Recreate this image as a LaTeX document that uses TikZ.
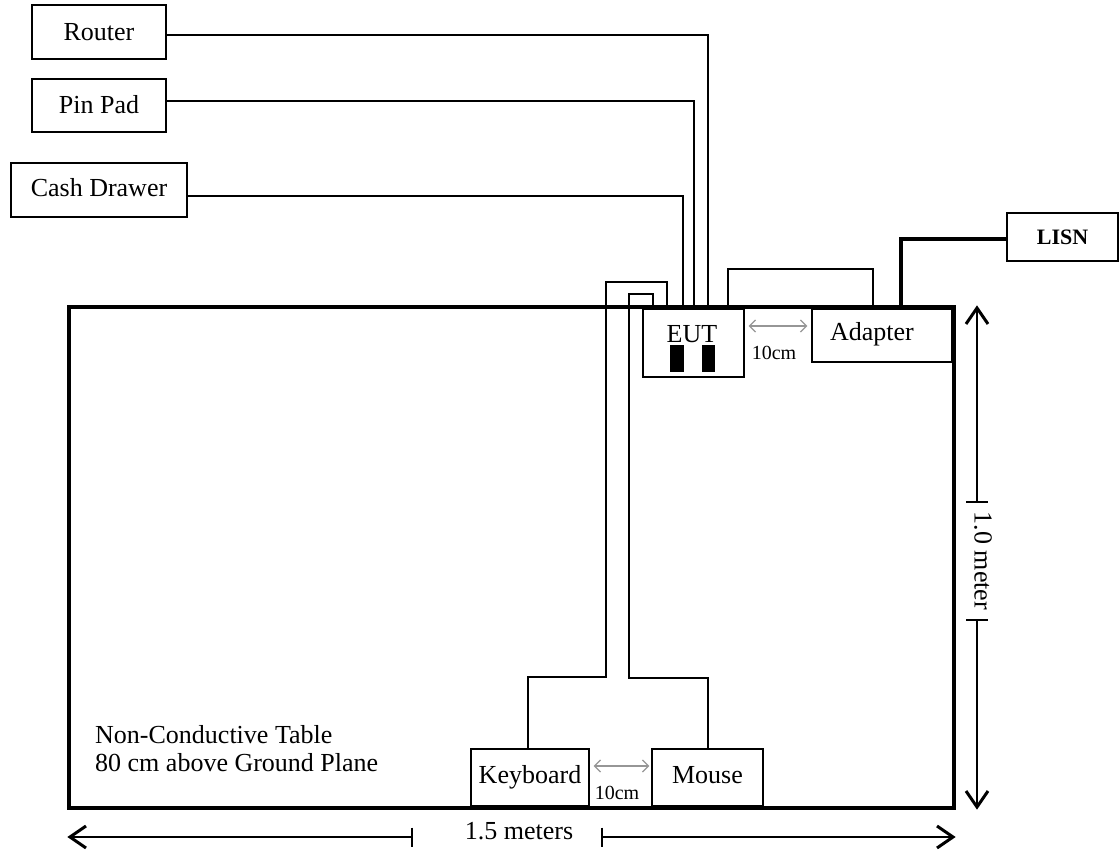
\documentclass[tikz,border=0pt]{standalone}
\usepackage{fontspec}
\setmainfont{Liberation Serif}
\usetikzlibrary{arrows.meta}
\definecolor{gapgray}{RGB}{150,150,150}
\begin{document}
\begin{tikzpicture}[x=1pt,y=-1pt,
  box/.style={draw, line width=1.3pt, fill=white, inner sep=0pt,
    font=\fontsize{26}{28}\selectfont, text height=16.5pt, text depth=5.5pt},
  cable/.style={line width=1.3pt},
  power/.style={line width=3.3pt},
  dimline/.style={line width=1.2pt},
  dimarr/.style={dimline, -{Straight Barb[length=16pt,width=22pt,line width=3pt]}},
  gaparr/.style={line width=1.3pt, draw=gapgray,
    {Straight Barb[length=6pt,width=12pt]}-{Straight Barb[length=6pt,width=12pt]}},
  lbl/.style={font=\fontsize{26}{28}\selectfont, inner sep=0pt},
  small/.style={font=\fontsize{20}{24}\selectfont, inner sep=0pt},
  port/.style={fill=black, inner sep=0pt, minimum width=14pt, minimum height=27pt}]
\useasboundingbox (0,0) rectangle (1120,850);

% table
\node[draw, line width=3.3pt, minimum width=885pt, minimum height=501pt, inner sep=0pt] (table) at (511.5,557.5) {};
\node[lbl, anchor=north west, align=left] (tablelabel) at (95,725) {Non-Conductive Table\\80 cm above Ground Plane};

% peripherals outside
\node[box, minimum width=134pt, minimum height=54pt, text height=18pt, text depth=0pt] (router) at (99,32) {Router};
\node[box, minimum width=134pt, minimum height=53pt, text height=17pt, text depth=0pt] (pinpad) at (99,105.5) {Pin Pad};
\node[box, minimum width=176pt, minimum height=54pt, text height=14pt, text depth=0pt] (cash) at (99,190) {Cash Drawer};
\node[box, minimum width=111pt, minimum height=48pt, font=\bfseries\fontsize{22}{26}\selectfont,
      text height=14.5pt, text depth=0pt] (lisn) at (1062.5,237) {LISN};

% on the table
\node[box, minimum width=101pt, minimum height=68pt] (eut) at (693.5,343) {};
\node[lbl, anchor=base] (eutlabel) at (692,343) {EUT};
\node[port] (port1) at (677,358.5) {};
\node[port, minimum width=13pt] (port2) at (708.5,358.5) {};
\node[box, minimum width=140pt, minimum height=53pt] (adapter) at (882,335.5) {\hspace*{-20pt}Adapter};
\node[box, minimum width=118pt, minimum height=57pt] (keyboard) at (530,777.5) {Keyboard};
\node[box, minimum width=111pt, minimum height=57pt] (mouse) at (707.5,777.5) {Mouse};

% cables
\draw[cable] ([yshift=-3pt]router.east) -| ([xshift=14.5pt]eut.north);
\draw[cable] ([yshift=4.5pt]pinpad.east) -| ([xshift=0.5pt]eut.north);
\draw[cable] ([yshift=-6pt]cash.east) -| ([xshift=-10.5pt]eut.north);
\draw[cable] ([xshift=-26.5pt]eut.north) |- (606,282) -- (606,677) -| ([xshift=-2pt]keyboard.north);
\draw[cable] ([xshift=-40.5pt]eut.north) |- (629,294) -- (629,678) -| ([xshift=0.5pt]mouse.north);
\draw[cable] ([xshift=34.5pt]eut.north) |- (800,269) -| ([xshift=-9pt]adapter.north);
\draw[power] ([xshift=19pt]adapter.north) |- ([yshift=-2pt]lisn.west);

% 10 cm spacings
\draw[gaparr] ([shift={(4,-17)}]eut.east) -- ([shift={(-4,-9.5)}]adapter.west);
\node[small, anchor=base] (gap1) at (774,360) {10cm};
\draw[gaparr] ([shift={(4,-11.5)}]keyboard.east) -- ([shift={(-2,-11.5)}]mouse.west);
\node[small, anchor=base] (gap2) at (617,799) {10cm};

% width dimension
\coordinate (tickL) at (412,837);
\coordinate (tickR) at (602,837);
\draw[dimarr] (tickL) -- (tickL -| table.west);
\draw[dimarr] (tickR) -- (tickR -| table.east);
\draw[dimline] ([yshift=9.5pt]tickL) -- ([yshift=-9.5pt]tickL);
\draw[dimline] ([yshift=9.5pt]tickR) -- ([yshift=-9.5pt]tickR);
\node[lbl, anchor=base] (widthlabel) at (519,839) {1.5 meters};

% height dimension
\coordinate (tickT) at (977,502);
\coordinate (tickB) at (977,620);
\draw[dimarr] (tickT) -- (tickT |- table.north);
\draw[dimarr] (tickB) -- (tickB |- table.south);
\draw[dimline] ([xshift=-11pt]tickT) -- ([xshift=11pt]tickT);
\draw[dimline] ([xshift=-11pt]tickB) -- ([xshift=11pt]tickB);
\node[lbl, rotate=-90] (heightlabel) at (983,561) {1.0 meter};
\end{tikzpicture}
\end{document}
